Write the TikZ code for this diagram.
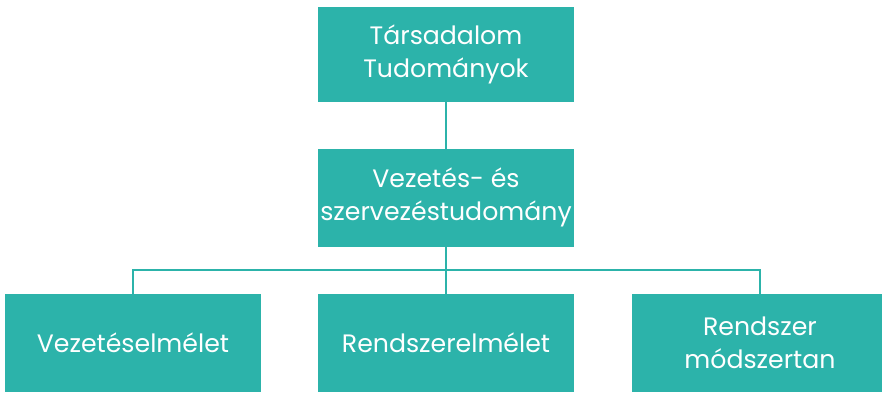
\documentclass[tikz,border=0pt]{standalone}
\usepackage{fontspec}
\setmainfont{Poppins}
\definecolor{teal}{RGB}{44,179,170}

\begin{document}
\begin{tikzpicture}[x=0.5pt, y=-0.5pt,
		box/.style={draw=none, fill=teal, text=white, align=center, inner sep=0pt, outer sep=0pt,
			minimum width=128pt, minimum height=49pt, font=\fontsize{12.6}{16.5}\selectfont},
		link/.style={draw=teal, line width=1.2pt}] %organigram
		\useasboundingbox (0,0) rectangle (882,392);
		\node[box, minimum height=47.5pt] (1) at (446,54.5) {Társadalom\\Tudományok};
		\node[box] (2) at (446,197.5) {Vezetés- és\\szervezéstudomány};
		
		\node[box] (3) at (133,342.5) {Vezetéselmélet};
		\node[box] (4) at (446,342.5) {Rendszerelmélet};
		\node[box] (5) at (760,342.5) {Rendszer\\módszertan};
		
		\coordinate (J) at (446,270);
		
		\path [link]
		(1) edge (2)
		(2) edge (4);
		\draw[link] (3.north) |- (J) -| (5.north);
	\end{tikzpicture}
\end{document}
